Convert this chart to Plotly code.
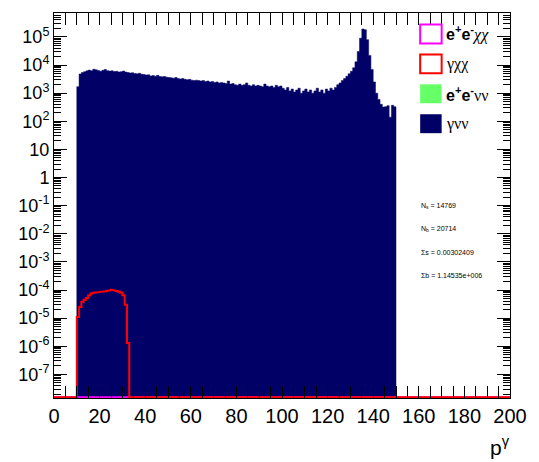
import plotly.graph_objects as go

# ---- histogram definition: 200 bins of width 1 on [0, 200] ----
bin_lo = 0.0
bin_w = 1.0
n_bins = 200

# gamma nu nu background, bins starting at p = 10 ... 149
bkg_start = 10
gamma_nunu = [
    1700, 4800, 5400, 5800, 6200, 6600, 6300, 7100, 6800, 6400,
    6000, 6500, 6900, 6300, 6100, 6200, 5900, 6000, 5700, 5800,
    6100, 5600, 5400, 5200, 5300, 5000, 4900, 5100, 4700, 4600,
    4400, 4500, 4100, 4200, 4000, 4300, 3900, 3800, 3900, 3700,
    3600, 3500, 3400, 3600, 3300, 3200, 3300, 3100, 3000, 3100,
    2900, 2800, 2900, 2800, 2700, 2800, 2600, 2700, 2500, 2600,
    2400, 2500, 2300, 2400, 2300, 2200, 2700, 2100, 2200, 2000,
    1900, 2100, 1900, 2000, 2300, 1900, 1800, 2000, 1800, 1900,
    1800, 1700, 2100, 1800, 1700, 1800, 1600, 1900, 1700, 1800,
    1500, 1300, 1600, 1200, 1400, 1100, 1300, 1500, 1000, 1200,
    1400, 1100, 1300, 1000, 1200, 1500, 1100, 1300, 1000, 1400,
    1200, 1500, 1300, 1600, 2000, 2300, 2800, 3300, 4000, 4900,
    6000, 8000, 13000, 30000, 90000, 190000, 180000, 80000, 22000, 7000,
    2500, 1000, 600, 400, 320, 330, 360, 140, 370, 330,
]

# gamma chi chi signal, bins starting at p = 10 ... 32
sig_start = 10
gamma_chichi = [
    1.1e-5, 2.5e-5, 3.8e-5, 4.5e-5, 5.2e-5, 6.5e-5, 7.5e-5, 8.0e-5,
    8.3e-5, 8.4e-5, 8.6e-5, 8.8e-5, 9.0e-5, 9.4e-5, 9.7e-5, 1.02e-4,
    9.6e-5, 9.3e-5, 8.6e-5, 8.0e-5, 6.5e-5, 3.0e-5, 1.3e-6,
]

# e+e- chi chi and e+e- nu nu: empty over the visible range
ee_chichi = [0.0] * n_bins
ee_nunu = [0.0] * n_bins

x_ticks = [0, 20, 40, 60, 80, 100, 120, 140, 160, 180, 200]
y_tick_vals = [1e-7, 1e-6, 1e-5, 1e-4, 1e-3, 1e-2, 1e-1, 1, 10, 1e2, 1e3, 1e4, 1e5]
y_tick_text = ["10<sup>-7</sup>", "10<sup>-6</sup>", "10<sup>-5</sup>", "10<sup>-4</sup>",
               "10<sup>-3</sup>", "10<sup>-2</sup>", "10<sup>-1</sup>", "1", "10",
               "10<sup>2</sup>", "10<sup>3</sup>", "10<sup>4</sup>", "10<sup>5</sup>"]

legend_labels = [
    ("<b>e<sup>+</sup>e<sup>-</sup></b><span style='font-family:Liberation Serif;font-style:italic'>χχ</span>", "#ff00ff", False),
    ("<span style='font-family:Liberation Serif'>γχχ</span>", "#ff0000", False),
    ("<b>e<sup>+</sup>e<sup>-</sup></b><span style='font-family:Liberation Serif'>νν</span>", "#66ff66", True),
    ("<span style='font-family:Liberation Serif'>γνν</span>", "#000066", True),
]

stats_lines = ["N<sub>s</sub> = 14769", "N<sub>b</sub> = 20714",
               "Σs = 0.00302409", "Σb = 1.14535e+006"]

NAVY = "#000066"
y_lo_log, y_hi_log = -7.84, 5.85
floor = 10 ** (y_lo_log + 0.03)   # empty bins are drawn on the frame bottom

# minor log ticks at 2..9 of every decade in range
y_minor_vals = [m * 10.0 ** e for e in range(-8, 6) for m in range(2, 10)]


def full_bins(values, start):
    out = [0.0] * n_bins
    for i, v in enumerate(values):
        out[start + i] = v
    return out


def step_outline(contents):
    """Step polyline through the bin contents; empty bins sit on the floor."""
    xs, ys = [], []
    for i, v in enumerate(contents):
        lo = bin_lo + i * bin_w
        v = v if v > floor else floor
        xs += [lo, lo + bin_w]
        ys += [v, v]
    return xs, ys


def filled_region(values, start):
    xs, ys = [bin_lo + start * bin_w], [floor]
    for i, v in enumerate(values):
        lo = bin_lo + (start + i) * bin_w
        xs += [lo, lo + bin_w]
        ys += [max(v, floor), max(v, floor)]
    xs.append(bin_lo + (start + len(values)) * bin_w)
    ys.append(floor)
    return xs, ys


fig = go.Figure()

# stacked background: e+e- nu nu (empty) under gamma nu nu
gx, gy = step_outline(ee_nunu)
fig.add_trace(go.Scatter(x=gx, y=gy, mode="lines", line=dict(color="#66ff66", width=0),
                         hoverinfo="skip", showlegend=False))

bx, by = filled_region(gamma_nunu, bkg_start)
fig.add_trace(go.Scatter(x=bx, y=by, mode="lines", fill="toself", fillcolor=NAVY,
                         line=dict(color=NAVY, width=0.5), hoverinfo="skip", showlegend=False))

# e+e- chi chi outline (sits on the bottom), then gamma chi chi outline on top
mx, my = step_outline(ee_chichi)
fig.add_trace(go.Scatter(x=mx, y=my, mode="lines", line=dict(color="#ff00ff", width=2),
                         hoverinfo="skip", showlegend=False))

rx, ry = step_outline(full_bins(gamma_chichi, sig_start))
fig.add_trace(go.Scatter(x=rx, y=ry, mode="lines", line=dict(color="#ff0000", width=2),
                         hoverinfo="skip", showlegend=False))

# empty trace that carries the overlay axis used for the minor log ticks
fig.add_trace(go.Scatter(x=[None], y=[None], yaxis="y2", mode="lines",
                         hoverinfo="skip", showlegend=False))

# ---- legend drawn as boxes + labels in the upper right ----
L, R, T, B = 54, 521, 12, 398
W, H = 539, 462


def px(xp):
    return (xp - L) / (R - L)


def py(yp):
    return (B - yp) / (B - T)


shapes = []
annotations = []
centers = [33, 63, 93, 123]
for (label, color, filled), cy in zip(legend_labels, centers):
    shapes.append(dict(type="rect", xref="paper", yref="paper",
                       x0=px(429), x1=px(451), y0=py(cy + 9.5), y1=py(cy - 9.5),
                       line=dict(color=color, width=2 if not filled else 0),
                       fillcolor=color if filled else "white"))
    annotations.append(dict(xref="paper", yref="paper", x=px(453), y=py(cy),
                            xanchor="left", yanchor="middle", showarrow=False,
                            text=label, font=dict(family="Liberation Sans", size=16, color="black")))

for line, yp in zip(stats_lines, [205, 229, 252, 275]):
    annotations.append(dict(xref="paper", yref="paper", x=px(428), y=py(yp),
                            xanchor="left", yanchor="middle", showarrow=False,
                            text=line, font=dict(family="Liberation Sans", size=7, color="black")))

# axis title p^gamma
annotations.append(dict(xref="paper", yref="paper", x=px(498), y=py(446),
                        xanchor="left", yanchor="middle", showarrow=False,
                        text="p<sup>γ</sup>", font=dict(family="Liberation Sans", size=21, color="black")))

fig.update_layout(
    width=W, height=H,
    margin=dict(l=L, r=W - R, t=T, b=H - B),
    paper_bgcolor="white", plot_bgcolor="white",
    showlegend=False,
    shapes=shapes, annotations=annotations,
    xaxis=dict(range=[0, 200], tickvals=x_ticks, ticktext=[str(v) for v in x_ticks],
               ticks="inside", ticklen=12, tickcolor="black", tickwidth=1,
               minor=dict(dtick=5, ticks="inside", ticklen=6, tickcolor="black", showgrid=False),
               showline=True, linecolor="black", linewidth=1, mirror="allticks",
               showgrid=False, zeroline=False,
               tickfont=dict(family="Liberation Sans", size=20, color="black")),
    yaxis=dict(type="log", range=[y_lo_log, y_hi_log], tickmode="array",
               tickvals=y_tick_vals, ticktext=y_tick_text,
               ticks="inside", ticklen=13, tickcolor="black", tickwidth=1,
               showline=True, linecolor="black", linewidth=1, mirror="allticks",
               showgrid=False, zeroline=False,
               tickfont=dict(family="Liberation Sans", size=18, color="black")),
    yaxis2=dict(type="log", range=[y_lo_log, y_hi_log], overlaying="y", anchor="x",
                side="left", tickmode="array", tickvals=y_minor_vals,
                ticktext=[""] * len(y_minor_vals),
                ticks="inside", ticklen=7, tickcolor="black", tickwidth=1,
                showline=False, mirror="ticks", showgrid=False, zeroline=False),
)

fig.write_html("out.html")
